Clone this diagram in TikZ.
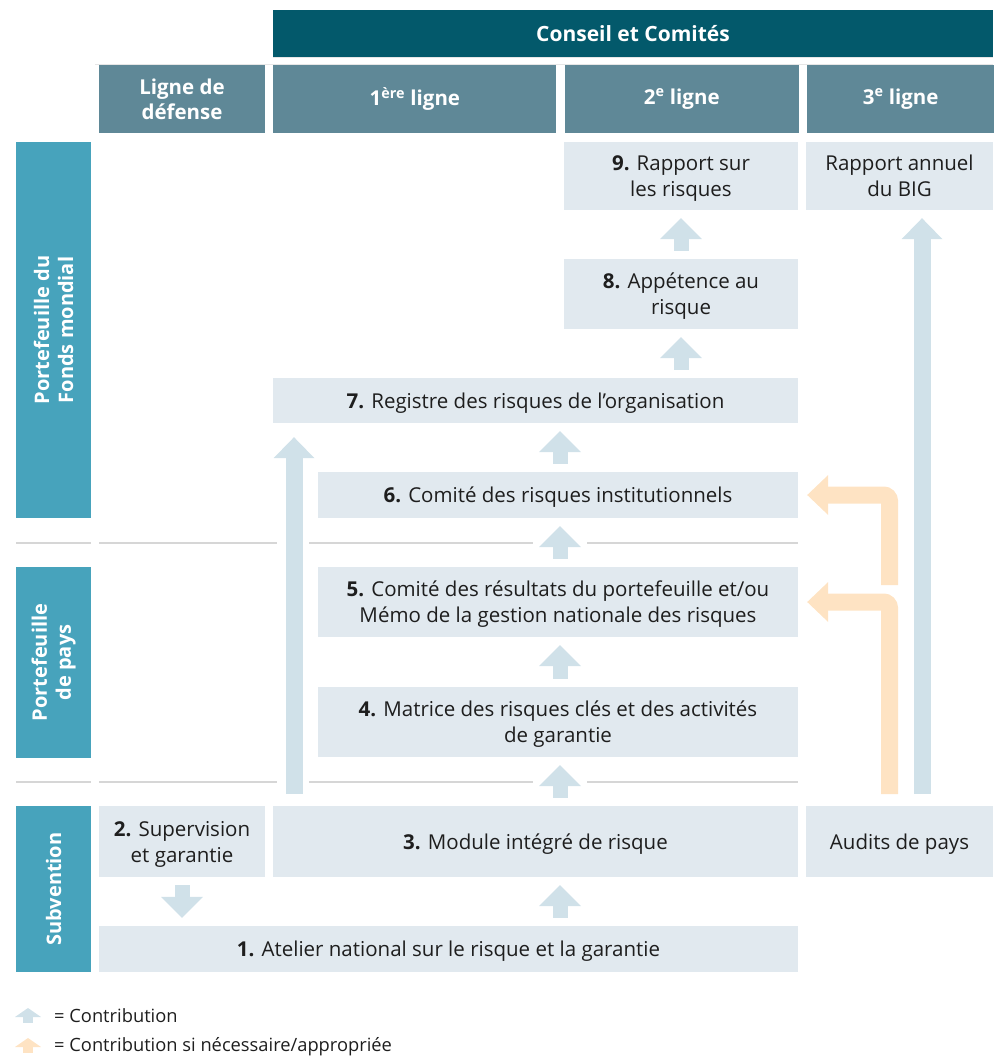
\documentclass[tikz,border=0pt]{standalone}
\usepackage{fontspec}
\setmainfont{Open Sans}
\usetikzlibrary{arrows.meta,positioning}
\definecolor{conseil}{RGB}{3,89,107}
\definecolor{ligne}{RGB}{95,136,151}
\definecolor{niveau}{RGB}{71,163,188}
\definecolor{cellbg}{RGB}{225,233,239}
\definecolor{arrblue}{RGB}{208,225,233}
\definecolor{arrorange}{RGB}{254,227,195}
\definecolor{sepgray}{RGB}{214,214,214}
\definecolor{txt}{RGB}{30,30,30}

\begin{document}
\begin{tikzpicture}[x=1pt, y=-1pt, every node/.style={inner sep=0pt, align=center}]
    \tikzstyle{hdr} = [rectangle, fill=ligne, text=white, font=\bfseries\fontsize{20.5}{25}\selectfont, minimum height=68pt]
    \tikzstyle{rowlbl} = [rectangle, fill=niveau, text=white, font=\bfseries\fontsize{20}{24}\selectfont, minimum height=75pt, rotate=90]
    \tikzstyle{cell} = [rectangle, fill=cellbg, text=txt, font=\fontsize{20.5}{26}\selectfont, text depth=0pt]
    \tikzstyle{sepline} = [draw=sepgray, line width=1.5pt]
    \tikzstyle{contrib} = [draw=arrblue, line width=15pt, -{Triangle[width=42pt, length=21pt, line width=0pt]}, shorten <=8pt, shorten >=8pt]
    \tikzstyle{longarr} = [draw=arrblue, line width=17pt, -{Triangle[width=41pt, length=21pt, line width=0pt]}]
    \tikzstyle{ifneed} = [draw=arrorange, line width=17pt, -{Triangle[width=40pt, length=21pt, line width=0pt]}, rounded corners=6pt, shorten >=9pt]
    \tikzstyle{legtxt} = [anchor=west, text=txt, font=\fontsize{18.3}{20}\selectfont]

    \useasboundingbox (0,0) rectangle (993,1056);
    \draw[draw=sepgray!60, line width=1pt] (273,57.5) -- (993,57.5) (95,64.5) -- (993,64.5);

    \node [fill=conseil, text=white, font=\bfseries\fontsize{21}{25}\selectfont, minimum width=720pt, minimum height=47pt] (cc) at (633,33.5) {Conseil et Comités};
    \node [hdr, minimum width=166pt] (h0) at (182,99) {Ligne de\\défense};
    \node [hdr, minimum width=283pt, right=8pt of h0] (h1) {1\textsuperscript{ère} ligne};
    \node [hdr, minimum width=234pt, right=8pt of h1] (h2) {2\textsuperscript{e} ligne};
    \node [hdr, minimum width=187pt, right=8pt of h2] (h3) {3\textsuperscript{e} ligne};

    \node [rowlbl, minimum width=376pt] (fm) at (53.5,330) {Portefeuille du\\Fonds mondial};
    \node [rowlbl, minimum width=191pt] (pp) at (53.5,662.5) {Portefeuille\\de pays};
    \node [rowlbl, minimum width=166pt] (sv) at (53.5,889) {Subvention};

    \node [cell, minimum width=234pt, minimum height=68pt] (n9) at (681,176) {\textbf{9.} Rapport sur\\les risques};
    \node [cell, minimum width=187pt, minimum height=68pt] (big) at (899.5,176) {Rapport annuel\\du BIG};
    \node [cell, minimum width=234pt, minimum height=70pt] (n8) at (681,294) {\textbf{8.} Appétence au\\risque};
    \node [cell, minimum width=525pt, minimum height=45pt] (n7) at (535.5,400.5) {\textbf{7.} Registre des risques de l’organisation};
    \node [cell, minimum width=480pt, minimum height=46pt] (n6) at (558,495) {\textbf{6.} Comité des risques institutionnels};
    \node [cell, minimum width=480pt, minimum height=70pt] (n5) at (558,602) {\textbf{5.} Comité des résultats du portefeuille et/ou\\Mémo de la gestion nationale des risques};
    \node [cell, minimum width=480pt, minimum height=70pt] (n4) at (558,722) {\textbf{4.} Matrice des risques clés et des activités\\de garantie};
    \node [cell, minimum width=166pt, minimum height=71pt] (n2) at (182,841.5) {\textbf{2.} Supervision\\et garantie};
    \node [cell, minimum width=525pt, minimum height=71pt] (n3) at (535.5,841.5) {\textbf{3.} Module intégré de risque};
    \node [cell, minimum width=187pt, minimum height=71pt] (aud) at (899.5,841.5) {Audits de pays};
    \node [cell, minimum width=699pt, minimum height=46pt] (n1) at (448.5,949) {\textbf{1.} Atelier national sur le risque et la garantie};

    \draw [sepline] (16,543) -- (91,543) (99,543) -- (277,543) (309,543) -- (533,543) (587,543) -- (798,543);
    \draw [sepline] (16,782) -- (91,782) (99,782) -- (277,782) (309,782) -- (533,782) (587,782) -- (798,782);

    \coordinate (ax) at (560,0);
    \coordinate (lb) at (294,794);
    \coordinate (rb) at (922,794);
    \coordinate (o1) at (889.5,794);
    \coordinate (o2) at (889.5,585);

    \draw [contrib] (n8.north) -- (n9.south);
    \draw [contrib] (n7.north -| n8) -- (n8.south);
    \draw [contrib] (n6.north -| ax) -- (n7.south -| ax);
    \draw [contrib] (n5.north -| ax) -- (n6.south -| ax);
    \draw [contrib] (n4.north -| ax) -- (n5.south -| ax);
    \draw [contrib] (n3.north -| ax) -- (n4.south -| ax);
    \draw [contrib] (n1.north -| ax) -- (n3.south -| ax);
    \draw [contrib] (n2.south) -- (n2.south |- n1.north);
    \draw [longarr, shorten >=14pt] (lb) -- (lb |- n7.south);
    \draw [longarr, shorten >=8pt] (rb) -- (rb |- big.south);
    \draw [ifneed] (o1) |- (n5.east);
    \draw [ifneed] (o2) |- (n6.east);

    \coordinate (lg1) at (28,1023);
    \coordinate (lg2) at (28,1053);
    \draw [draw=arrblue, line width=10pt, -{Triangle[width=26pt, length=9pt, line width=0pt]}] (lg1) -- ++(0,-15);
    \draw [draw=arrorange, line width=10pt, -{Triangle[width=26pt, length=9pt, line width=0pt]}] (lg2) -- ++(0,-15);
    \node [legtxt] (lt1) at (54,1016) {= Contribution};
    \node [legtxt] (lt2) at (54,1047) {= Contribution si nécessaire/appropriée};
\end{tikzpicture}
\end{document}
